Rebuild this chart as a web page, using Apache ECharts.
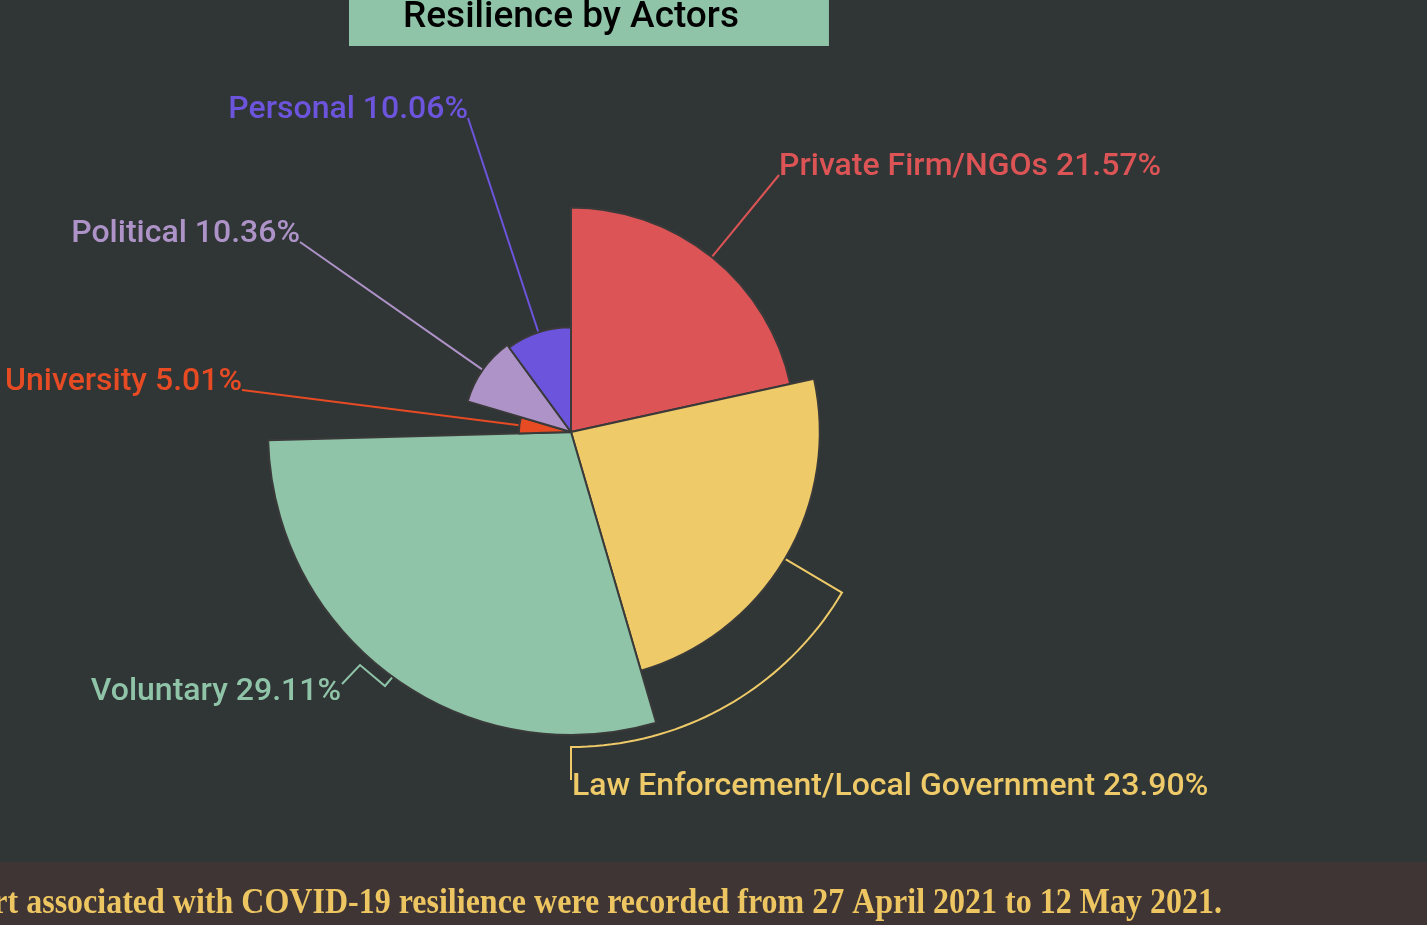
<!DOCTYPE html>
<html>
<head>
<meta charset="utf-8">
<script src="https://cdn.jsdelivr.net/npm/echarts@6/dist/echarts.min.js"></script>
<style>
html,body{margin:0;padding:0;background:#303536;}
#main{width:1427px;height:925px;}
</style>
</head>
<body>
<div id="main"></div>
<script>
// ---- data ----
const categories = ['Private Firm/NGOs', 'Law Enforcement/Local Government', 'Voluntary', 'University', 'Political', 'Personal'];
const values = [21.57, 23.90, 29.11, 5.01, 10.36, 10.06];
const titleText = 'Resilience by Actors';
const footnoteText = 'Tweets on the actors\u2019 effort associated with COVID-19 resilience were recorded from 27 April 2021 to 12 May 2021.';

// ---- styles / layout ----
const colors = ['#dc5455', '#eeca68', '#8fc4a8', '#e64b24', '#ae93c8', '#6c54dc'];
const PIE = { cx: 571, cy: 432, r: 303 };
// label placement: [x, y(center), align]
const labelPos = [
  [779, 164, 'left'],
  [572, 784, 'left'],
  [341, 689, 'right'],
  [242, 379, 'right'],
  [300, 231, 'right'],
  [468, 107, 'right']
];

const total = values.reduce((a, b) => a + b, 0);
const maxV = Math.max.apply(null, values);
const midAngles = [];
(function () {
  let a = 90;
  values.forEach(v => {
    const span = v / total * 360;
    midAngles.push((a - span / 2) * Math.PI / 180);
    a -= span;
  });
})();

function arcMid(i) {
  const r = PIE.r * values[i] / maxV;
  return [PIE.cx + r * Math.cos(midAngles[i]), PIE.cy - r * Math.sin(midAngles[i])];
}

const chart = echarts.init(document.getElementById('main'), null, { renderer: 'canvas' });

chart.setOption({
  backgroundColor: '#303536',
  title: {
    text: titleText,
    left: 349,
    top: -11,
    backgroundColor: '#8fc4a8',
    padding: [10, 90, 10, 54],
    textStyle: { color: '#000', fontFamily: 'Roboto', fontSize: 37, fontWeight: 500 }
  },
  graphic: [
    { type: 'rect', left: 0, top: 862, shape: { width: 1427, height: 63 }, style: { fill: '#3e3534' }, z: 1 },
    {
      type: 'text', x: 1222, y: 904, scaleX: 0.889, z: 2,
      style: {
        text: footnoteText, fill: '#edc561',
        font: 'bold 36px "Liberation Serif"',
        textAlign: 'right', textVerticalAlign: 'middle'
      }
    }
  ],
  series: [{
    type: 'pie',
    roseType: 'radius',
    center: [PIE.cx, PIE.cy],
    radius: [0, PIE.r],
    startAngle: 90,
    clockwise: true,
    avoidLabelOverlap: false,
    itemStyle: { borderColor: '#3a3a3a', borderWidth: 2 },
    label: {
      show: true,
      fontFamily: 'Roboto',
      fontSize: 32,
      fontWeight: 500,
      formatter: p => p.name + ' ' + p.value.toFixed(2) + '%'
    },
    labelLine: { show: true, length: 40, length2: 10, lineStyle: { width: 2 } },
    labelLayout: function (p) {
      const i = p.dataIndex;
      const pos = labelPos[i];
      const m = arcMid(i);
      let pts;
      if (i === 1) {
        const r2 = 315;
        pts = [m];
        const a0 = midAngles[i], a1 = -Math.PI / 2;
        const n = 40;
        for (let k = 0; k <= n; k++) {
          const a = a0 + (a1 - a0) * k / n;
          pts.push([PIE.cx + r2 * Math.cos(a), PIE.cy - r2 * Math.sin(a)]);
        }
        pts.push([PIE.cx, pos[1] - 4]);
      } else if (i === 2) {
        const ax = pos[0] + 1, ay = pos[1] - 5;
        pts = [m, [ax + 43, ay + 2], [ax + 18, ay - 19], [ax, ay]];
      } else {
        pts = [m, [pos[0], pos[1] + 11]];
      }
      return { x: pos[0], y: pos[1] + 3, align: pos[2], verticalAlign: 'middle', labelLinePoints: pts };
    },
    data: categories.map((c, i) => ({
      name: c,
      value: values[i],
      itemStyle: { color: colors[i] },
      label: { color: colors[i] },
      labelLine: { lineStyle: { color: colors[i], width: 2 } }
    }))
  }]
});
</script>
</body>
</html>
